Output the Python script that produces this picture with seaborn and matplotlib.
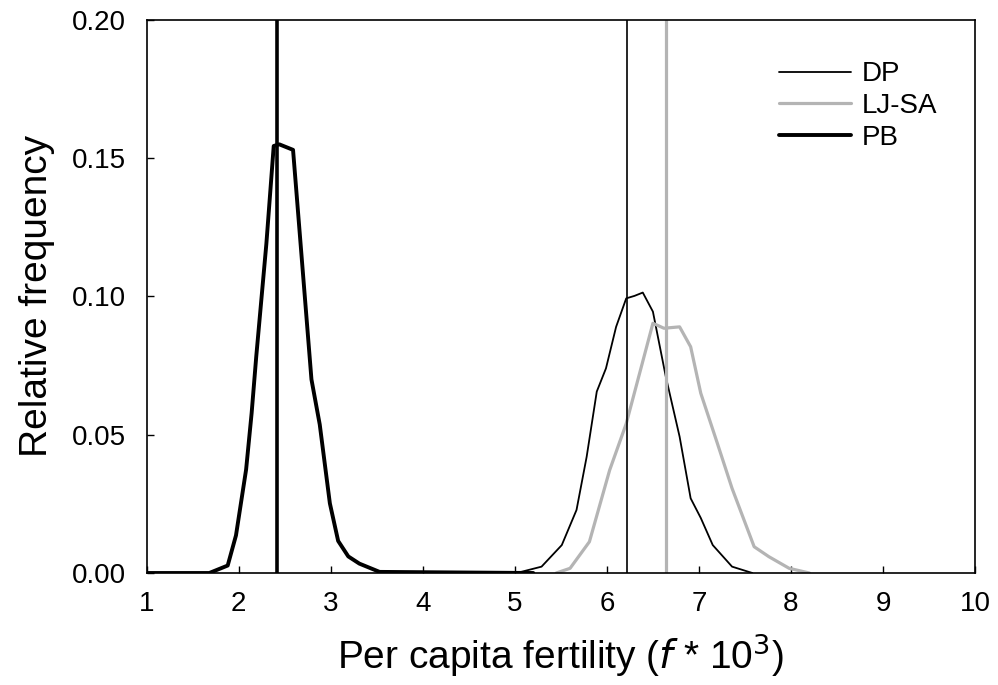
import matplotlib
matplotlib.use("Agg")
import matplotlib.pyplot as plt
import seaborn as sns
import pandas as pd

# fertility distributions (x = f*10^3, y = relative frequency)
pb_x = [1.0, 1.68, 1.88, 1.97, 2.08, 2.14, 2.19, 2.30, 2.38, 2.44, 2.59, 2.79, 2.88, 2.99, 3.08, 3.19, 3.31, 3.53, 5.2]
pb_y = [0.0, 0.0, 0.0027, 0.0136, 0.0374, 0.0578, 0.0782, 0.119, 0.1544, 0.155, 0.153, 0.070, 0.0537, 0.0252, 0.0116, 0.006, 0.0034, 0.0004, 0.0]

dp_x = [5.02, 5.29, 5.51, 5.67, 5.78, 5.89, 5.99, 6.10, 6.21, 6.30, 6.39, 6.50, 6.64, 6.79, 6.91, 7.02, 7.15, 7.36, 7.58]
dp_y = [0.0, 0.0023, 0.0101, 0.0228, 0.042, 0.0656, 0.074, 0.089, 0.0993, 0.1002, 0.1014, 0.0945, 0.071, 0.0493, 0.027, 0.0199, 0.0101, 0.0023, 0.0]

lj_x = [5.45, 5.60, 5.81, 6.03, 6.21, 6.50, 6.62, 6.79, 6.91, 7.02, 7.20, 7.36, 7.60, 7.76, 7.98, 8.2]
lj_y = [0.0, 0.0017, 0.0113, 0.0372, 0.054, 0.0903, 0.0885, 0.089, 0.0818, 0.065, 0.0469, 0.0306, 0.0095, 0.0059, 0.0017, 0.0]

# point estimates (vertical lines)
dp_est = 6.22
lj_est = 6.64
pb_est = 2.42

sns.set_style("ticks")
plt.rcParams['font.family'] = ['Liberation Sans', 'DejaVu Sans']
plt.rcParams['text.color'] = 'black'
plt.rcParams['axes.labelcolor'] = 'black'
plt.rcParams['xtick.color'] = 'black'
plt.rcParams['ytick.color'] = 'black'

fig = plt.figure(figsize=(9.98, 6.85), dpi=100)
ax = fig.add_axes([0.147, 0.1635, 0.83, 0.8075])

dp = pd.DataFrame({"x": dp_x, "y": dp_y})
lj = pd.DataFrame({"x": lj_x, "y": lj_y})
pb = pd.DataFrame({"x": pb_x, "y": pb_y})

sns.lineplot(data=dp, x="x", y="y", color="black", lw=1.3, label="DP", ax=ax)
sns.lineplot(data=lj, x="x", y="y", color="#b4b4b4", lw=2.3, label="LJ-SA", ax=ax)
sns.lineplot(data=pb, x="x", y="y", color="black", lw=2.8, label="PB", ax=ax)

ax.axvline(dp_est, color="black", lw=1.2)
ax.axvline(lj_est, color="#b4b4b4", lw=2.3)
ax.axvline(pb_est, color="black", lw=2.6)

ax.set_xlim(1, 10)
ax.set_ylim(0, 0.20)
ax.set_xticks(range(1, 11))
ax.set_yticks([0.0, 0.05, 0.10, 0.15, 0.20])
ax.set_yticklabels(["0.00", "0.05", "0.10", "0.15", "0.20"])
ax.tick_params(direction="in", length=5, width=1, labelsize=20)
ax.tick_params(axis="x", pad=13)
ax.tick_params(axis="y", pad=15)
for s in ax.spines.values():
    s.set_visible(True)
    s.set_linewidth(1.2)
    s.set_color("black")

ax.set_xlabel(r"Per capita fertility ($\mathit{f}$ * 10$^3$)", fontsize=28, labelpad=10)
ax.set_ylabel("Relative frequency", fontsize=28, labelpad=12)

leg = ax.legend(loc="upper right", bbox_to_anchor=(0.985, 0.97), frameon=False, fontsize=20,
                handlelength=2.6, labelspacing=0.2, handletextpad=0.4)

fig.savefig("out.png", dpi=100)
